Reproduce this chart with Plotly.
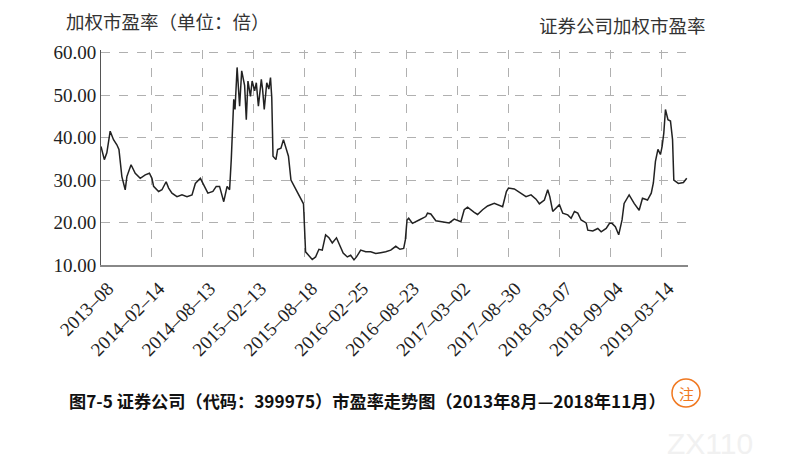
import plotly.graph_objects as go

# trading-day index (≈122 trading days between labelled ticks)
days = [0, 8, 14, 22, 30, 38, 43, 50, 58, 62, 72, 82, 94, 106, 116, 122, 126, 138, 146, 156,
        162, 170, 182, 194, 206, 218, 226, 238, 256, 268, 276, 284, 294, 302, 308, 312, 318, 321,
        326, 332, 337, 344, 348, 352, 358, 362, 368, 372, 377, 384, 387, 391, 397, 402, 406, 409,
        412, 419, 423, 431, 437, 443, 449, 455, 463, 471, 479, 485, 490, 498, 506, 514, 522, 530,
        538, 546, 554, 564, 573, 580, 590, 598, 606, 612, 622, 634, 646, 658, 670, 682, 694, 706,
        716, 725, 729, 733, 737, 746, 762, 778, 782, 790, 802, 818, 834, 846, 862, 870, 878, 894,
        902, 914, 926, 942, 954, 962, 971, 976, 990, 1002, 1018, 1030, 1042, 1050, 1062, 1070,
        1075, 1082, 1090, 1098, 1106, 1118, 1126, 1134, 1142, 1150, 1162, 1166, 1178, 1190, 1198,
        1210, 1218, 1224, 1232, 1240, 1248, 1253, 1265, 1277, 1289, 1297, 1309, 1318, 1323, 1328,
        1334, 1340, 1344, 1348, 1352, 1358, 1364, 1369, 1372, 1383, 1395, 1403]

pe = [37.9, 34.8, 36.4, 41.5, 39.5, 38.3, 37.2, 30.8, 27.7, 30.8, 33.6, 31.6, 30.4, 31.2, 31.6,
      30.4, 28.5, 27.3, 27.7, 29.6, 28.1, 26.9, 26.1, 26.5, 26.1, 26.5, 29.2, 30.4, 26.9, 27.3,
      28.5, 28.5, 24.9, 28.5, 27.7, 34.8, 49.0, 46.6, 56.5, 47.4, 55.7, 52.2, 44.2, 53.3, 49.7,
      53.3, 51.0, 52.9, 47.4, 53.7, 51.4, 46.6, 52.9, 51.4, 54.1, 49.4, 35.6, 34.8, 37.2, 37.5,
      39.5, 37.2, 35.6, 30.0, 28.5, 26.9, 25.3, 24.4, 13.1, 12.3, 11.3, 11.9, 13.7, 13.5, 17.1,
      16.4, 15.2, 16.4, 14.4, 12.8, 11.9, 12.3, 11.2, 11.9, 13.5, 13.1, 13.1, 12.7, 12.9, 13.1,
      13.5, 14.4, 13.7, 13.9, 15.9, 20.6, 21.0, 19.8, 20.6, 21.4, 22.2, 22.0, 20.4, 20.2, 19.9,
      20.8, 20.2, 23.0, 23.6, 22.4, 21.9, 23.0, 23.9, 24.5, 24.1, 23.7, 27.3, 28.1, 27.9, 27.1,
      26.1, 26.5, 25.5, 24.4, 25.3, 27.7, 26.1, 22.6, 23.4, 24.2, 22.2, 21.8, 21.0, 22.6, 22.2,
      20.6, 19.9, 18.2, 18.0, 18.6, 17.8, 18.6, 19.8, 19.8, 19.0, 17.1, 20.6, 24.5, 26.5, 24.5,
      22.9, 25.7, 25.3, 26.9, 29.3, 34.4, 37.2, 36.0, 37.9, 41.0, 46.6, 44.2, 43.9, 39.5, 30.0,
      29.2, 29.4, 30.4]

tick_days = [0, 122, 244, 366, 488, 610, 732, 854, 976, 1098, 1220, 1342]
tick_labels = ["2013–08", "2014–02–14", "2014–08–13", "2015–02–13", "2015–08–18", "2016–02–25",
               "2016–08–23", "2017–03–02", "2017–08–30", "2018–03–07", "2018–09–04", "2019–03–14"]
y_ticks = [10, 20, 30, 40, 50, 60]

series_name = "证券公司加权市盈率"
y_title = "加权市盈率（单位：倍）"
caption = "图7-5 证券公司（代码：399975）市盈率走势图（2013年8月—2018年11月）"

fig = go.Figure()
fig.add_trace(go.Scatter(x=days, y=pe, mode="lines", name=series_name,
                         line=dict(color="#222222", width=1.5)))

serif = "Liberation Serif, Times New Roman, serif"
cjk = "Noto Sans CJK SC, sans-serif"

fig.update_layout(
    width=791, height=468,
    margin=dict(l=93, r=111, t=42, b=211, autoexpand=False),
    paper_bgcolor="white", plot_bgcolor="white",
    showlegend=False,
    xaxis=dict(range=[0, 1406], tickmode="array", tickvals=tick_days, ticktext=tick_labels,
               tickangle=-45, tickfont=dict(family=serif, size=19, color="#222"),
               ticklabelshift=7, ticklabelstandoff=3,
               showgrid=True, gridcolor="#b0b0b0", griddash="dash", gridwidth=1,
               showline=True, linecolor="#888", linewidth=2, zeroline=False, ticks="",
               automargin=False),
    yaxis=dict(range=[10, 60.6], tickmode="array", tickvals=y_ticks, tickformat=".2f",
               tickfont=dict(family=serif, size=19, color="#222"),
               showgrid=True, gridcolor="#b0b0b0", griddash="dash", gridwidth=1,
               showline=True, linecolor="#555", linewidth=1, zeroline=False, ticks="",
               automargin=False),
    annotations=[
        dict(text=y_title, xref="paper", yref="paper", x=-0.063, y=1.135,
             xanchor="left", yanchor="middle", showarrow=False,
             font=dict(family=cjk, size=18.5, color="#333")),
        dict(text=series_name, xref="paper", yref="paper", x=1.034, y=1.116,
             xanchor="right", yanchor="middle", showarrow=False,
             font=dict(family=cjk, size=18.5, color="#333")),
        dict(text="<b>" + caption + "</b>", xref="paper", yref="paper", x=-0.058, y=-0.628,
             xanchor="left", yanchor="middle", showarrow=False,
             font=dict(family=cjk, size=17.2, color="#111")),
        dict(text="注", xref="paper", yref="paper", x=(686 - 101) / 587, y=(265 - 393) / 215,
             xanchor="center", yanchor="middle", showarrow=False,
             font=dict(family=cjk, size=15, color="#f07820")),
        dict(text="ZX110", xref="paper", yref="paper", x=(710 - 101) / 587, y=(265 - 443) / 215,
             xanchor="center", yanchor="middle", showarrow=False,
             font=dict(family="Liberation Sans, sans-serif", size=30, color="#f1f1f1")),
    ],
    shapes=[
        dict(type="circle", xref="paper", yref="paper",
             x0=(672 - 101) / 587, x1=(700 - 101) / 587,
             y0=(265 - 407) / 215, y1=(265 - 379) / 215,
             line=dict(color="#f07820", width=1.5)),
    ],
)

fig.write_html("out.html")
